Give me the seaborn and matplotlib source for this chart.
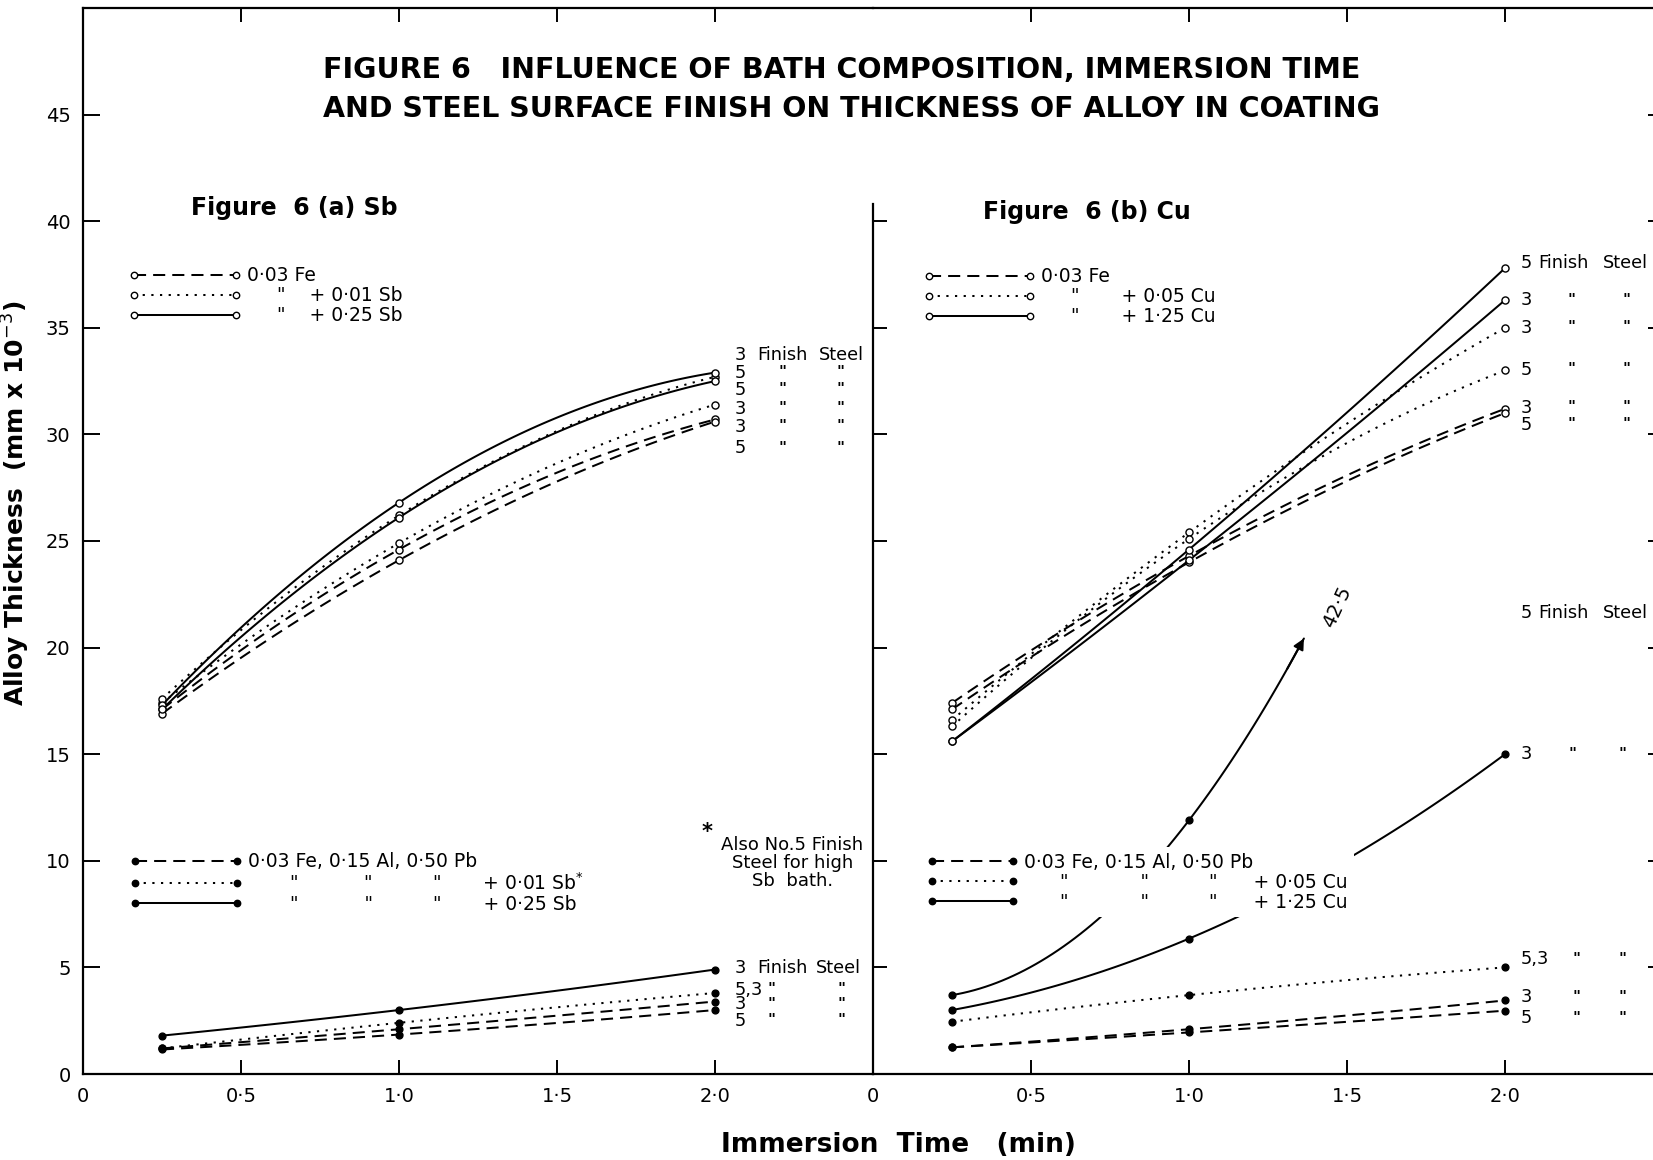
import numpy as np
import pandas as pd
import matplotlib
matplotlib.use("Agg")
import matplotlib.pyplot as plt
from matplotlib.lines import Line2D
import seaborn as sns

# ---------------- data ----------------
time_min = [0.25, 1.0, 2.0]

# Figure 6(a) Sb  -- 0.03 Fe baths (open circles)
a_fe_f3 = [17.1, 24.6, 30.7]
a_fe_f5 = [16.9, 24.1, 30.6]
a_sb001_f3 = [17.4, 24.9, 31.4]
a_sb001_f5 = [17.6, 26.2, 32.7]
a_sb025_f3 = [17.3, 26.8, 32.9]
a_sb025_f5 = [17.1, 26.1, 32.5]
# Figure 6(a) Sb  -- 0.03 Fe, 0.15 Al, 0.50 Pb baths (filled dots)
a_pb_f3 = [1.2, 2.1, 3.4]
a_pb_f5 = [1.15, 1.85, 3.0]
a_pb_sb001 = [1.2, 2.4, 3.8]
a_pb_sb025 = [1.8, 3.0, 4.9]

# Figure 6(b) Cu  -- 0.03 Fe baths (open circles)
b_fe_f3 = [17.4, 24.3, 31.2]
b_fe_f5 = [17.1, 24.0, 31.0]
b_cu005_f3 = [16.6, 25.4, 35.0]
b_cu005_f5 = [16.3, 25.1, 33.0]
b_cu125_f3 = [15.6, 24.1, 36.3]
b_cu125_f5 = [15.6, 24.6, 37.8]
# Figure 6(b) Cu  -- 0.03 Fe, 0.15 Al, 0.50 Pb baths (filled dots)
b_pb_f3 = [1.25, 2.1, 3.45]
b_pb_f5 = [1.25, 1.95, 2.97]
b_pb_cu005 = [2.45, 3.7, 5.0]
b_pb_cu125_f3 = [3.0, 6.35, 15.0]
b_pb_cu125_f5 = [3.7, 11.9, 42.5]   # off scale, shown with arrow
arrow_cut = 20.9

x_ticks = [0, 0.5, 1.0, 1.5, 2.0]
x_ticklabels = ["0", "0·5", "1·0", "1·5", "2·0"]
y_ticks = list(range(0, 50, 5))

# ---------------- style ----------------
sns.set_style("white")
plt.rcParams["font.family"] = ["DejaVu Sans"]
for k in ("text.color", "axes.labelcolor", "xtick.color", "ytick.color",
          "axes.edgecolor"):
    plt.rcParams[k] = "black"

DASH = (0, (6, 3.5))
DOT = (0, (1.1, 3.2))
SOLID = "-"
LW = 1.45

fig = plt.figure(figsize=(16.53, 11.60), dpi=100)
W, H = 1653.0, 1160.0
ax1 = fig.add_axes([83 / W, (H - 1074) / H, 790 / W, 1066 / H])
ax2 = fig.add_axes([873 / W, (H - 1074) / H, 790 / W, 1066 / H])


def draw(ax, y, ls, filled, cut=None):
    sns.regplot(x=time_min, y=y, order=2, ci=None, scatter=False, truncate=True,
                ax=ax, line_kws=dict(color="black", lw=LW, linestyle=ls))
    line = ax.lines[-1]
    xs, ys = line.get_data()
    if cut is not None:
        m = ys <= cut
        xs, ys = xs[m], ys[m]
        line.set_data(xs, ys)
        ax.annotate("", xy=(xs[-1], ys[-1]), xytext=(xs[-4], ys[-4]),
                    arrowprops=dict(arrowstyle="-|>", color="black", lw=LW,
                                    mutation_scale=16, shrinkA=0, shrinkB=0))
    px = [t for t, v in zip(time_min, y) if cut is None or v <= cut]
    py = [v for v in y if cut is None or v <= cut]
    ax.scatter(px, py, s=24 if filled else 26, marker="o",
               facecolor="black" if filled else "white",
               edgecolor="black", linewidth=1.0, zorder=4)


# panel (a)
for y, ls in [(a_fe_f3, DASH), (a_fe_f5, DASH), (a_sb001_f3, DOT), (a_sb001_f5, DOT),
              (a_sb025_f3, SOLID), (a_sb025_f5, SOLID)]:
    draw(ax1, y, ls, False)
for y, ls in [(a_pb_f3, DASH), (a_pb_f5, DASH), (a_pb_sb001, DOT), (a_pb_sb025, SOLID)]:
    draw(ax1, y, ls, True)

# panel (b)
for y, ls in [(b_fe_f3, DASH), (b_fe_f5, DASH), (b_cu005_f3, DOT), (b_cu005_f5, DOT),
              (b_cu125_f3, SOLID), (b_cu125_f5, SOLID)]:
    draw(ax2, y, ls, False)
for y, ls in [(b_pb_f3, DASH), (b_pb_f5, DASH), (b_pb_cu005, DOT), (b_pb_cu125_f3, SOLID)]:
    draw(ax2, y, ls, True)
draw(ax2, b_pb_cu125_f5, SOLID, True, cut=arrow_cut)

# ---------------- axes ----------------
TICKFS = 14
for ax in (ax1, ax2):
    ax.set_xlim(0, 2.5)
    ax.set_ylim(0, 50)
    ax.set_xlabel("")
    ax.set_ylabel("")
    ax.set_xticks(x_ticks)
    ax.set_xticklabels(x_ticklabels, fontsize=TICKFS)
    ax.tick_params(axis="x", direction="in", top=True, bottom=True, length=10,
                   width=1.4, pad=9, colors="black")
    for t in ax.xaxis.get_major_ticks()[:1]:
        t.tick1line.set_visible(False)
        t.tick2line.set_visible(False)
    for s in ax.spines.values():
        s.set_linewidth(1.6)
        s.set_color("black")
    ax.set_facecolor("none")

ax1.set_yticks(y_ticks)
ax1.set_yticklabels([str(v) for v in y_ticks], fontsize=TICKFS)
ax1.tick_params(axis="y", direction="in", left=True, right=False, length=12,
                width=1.4, pad=9, colors="black")
ax1.spines["right"].set_visible(False)

ax2.set_yticks([v for v in y_ticks if 0 < v <= 40])
ax2.tick_params(axis="y", direction="in", left=True, right=False, length=10,
                width=1.4, labelleft=False)
ax2.spines["left"].set_bounds(0, 40.8)
sec = ax2.secondary_yaxis("right")
sec.set_yticks(y_ticks)
sec.set_yticklabels([])
sec.tick_params(axis="y", direction="in", length=11, width=1.4)

# ---------------- legends ----------------
LEGFS = 13.5


def handles(filled):
    mfc = "black" if filled else "white"
    return [Line2D([], [], color="black", lw=LW, ls=ls, marker="o", ms=4.6,
                   mfc=mfc, mec="black", mew=1.0) for ls in (DASH, DOT, SOLID)]


def legend(ax, filled, labels, x, y, hl):
    lg = ax.legend(handles(filled), labels, numpoints=2, handlelength=hl,
                   handletextpad=0.3, labelspacing=0.05, fontsize=LEGFS,
                   frameon=True, facecolor="white", edgecolor="none", framealpha=1,
                   borderpad=0.3, borderaxespad=0, loc="center left",
                   bbox_to_anchor=(x, y), bbox_transform=ax.transData)
    ax.add_artist(lg)
    return lg


legend(ax1, False, ["0·03 Fe", '     "    + 0·01 Sb', '     "    + 0·25 Sb'],
       0.127, 36.5, 6.0)
legend(ax1, True, ["0·03 Fe, 0·15 Al, 0·50 Pb",
                   '       "           "          "       + 0·01 Sb$^{*}$',
                   '       "           "          "       + 0·25 Sb'],
       0.130, 8.95, 6.0)
legend(ax2, False, ["0·03 Fe", '     "       + 0·05 Cu', '     "       + 1·25 Cu'],
       0.143, 36.45, 5.95)
legend(ax2, True, ["0·03 Fe, 0·15 Al, 0·50 Pb",
                   '      "            "          "      + 0·05 Cu',
                   '      "            "          "      + 1·25 Cu'],
       0.150, 9.0, 4.95)

# ---------------- finish labels ----------------
LFS = 12.8


def finish_labels(ax, xnum, xfin, xsteel, xd1, xd2, rows, nums, with_title=True):
    for i, (yv, n) in enumerate(zip(rows, nums)):
        ax.text(xnum, yv, n, fontsize=LFS, ha="left", va="center")
        if i == 0 and with_title:
            ax.text(xfin, yv, "Finish", fontsize=LFS, ha="left", va="center")
            ax.text(xsteel, yv, "Steel", fontsize=LFS, ha="left", va="center")
        else:
            ax.text(xd1, yv, '"', fontsize=11, ha="center", va="center", weight="bold")
            ax.text(xd2, yv, '"', fontsize=11, ha="center", va="center", weight="bold")


finish_labels(ax1, 2.063, 2.135, 2.33, 2.215, 2.397,
              [33.74, 32.9, 32.1, 31.2, 30.35, 29.35], ["3", "5", "5", "3", "3", "5"])
finish_labels(ax1, 2.063, 2.135, 2.32, 2.18, 2.40,
              [4.95, 3.96, 3.26, 2.5], ["3", "5,3", "3", "5"])
finish_labels(ax2, 2.05, 2.105, 2.31, 2.21, 2.386,
              [38.06, 36.3, 35.0, 33.04, 31.25, 30.45], ["5", "3", "3", "5", "3", "5"])
finish_labels(ax2, 2.05, 2.105, 2.31, 2.21, 2.386, [21.6], ["5"])
finish_labels(ax2, 2.05, 2.105, 2.31, 2.213, 2.373, [15.0], ["3"], with_title=False)
finish_labels(ax2, 2.05, 2.105, 2.31, 2.227, 2.373,
              [5.39, 3.61, 2.62], ["5,3", "3", "5"], with_title=False)

ax2.text(1.47, 21.9, "42·5", fontsize=14, rotation=65, ha="center", va="center")

ax1.text(1.975, 11.35, "*", fontsize=15, ha="center", va="center", weight="bold")
ax1.text(2.245, 9.9, "Also No.5 Finish\nSteel for high\nSb  bath.", fontsize=13,
         ha="center", va="center", multialignment="center", linespacing=1.0)

ax1.text(0.341, 40.6, "Figure  6 (a) Sb", fontsize=17, weight="bold",
         ha="left", va="center")
ax2.text(0.347, 40.45, "Figure  6 (b) Cu", fontsize=17, weight="bold",
         ha="left", va="center")

# ---------------- titles / labels ----------------
fig.text(323 / W, 1 - 70 / H, "FIGURE 6   INFLUENCE OF BATH COMPOSITION, IMMERSION TIME",
         fontsize=20.5, weight="bold", ha="left", va="center")
fig.text(323 / W, 1 - 109 / H, "AND STEEL SURFACE FINISH ON THICKNESS OF ALLOY IN COATING",
         fontsize=20.5, weight="bold", ha="left", va="center")
ax1.set_ylabel("Alloy Thickness  (mm x 10$^{-3}$)", fontsize=18, weight="bold")
ax1.yaxis.set_label_coords(-0.065, 0.535)
fig.text(898 / W, 1 - 1145 / H, "Immersion  Time   (min)", fontsize=19, weight="bold",
         ha="center", va="center")

fig.savefig("out.png", dpi=100, facecolor="white")
